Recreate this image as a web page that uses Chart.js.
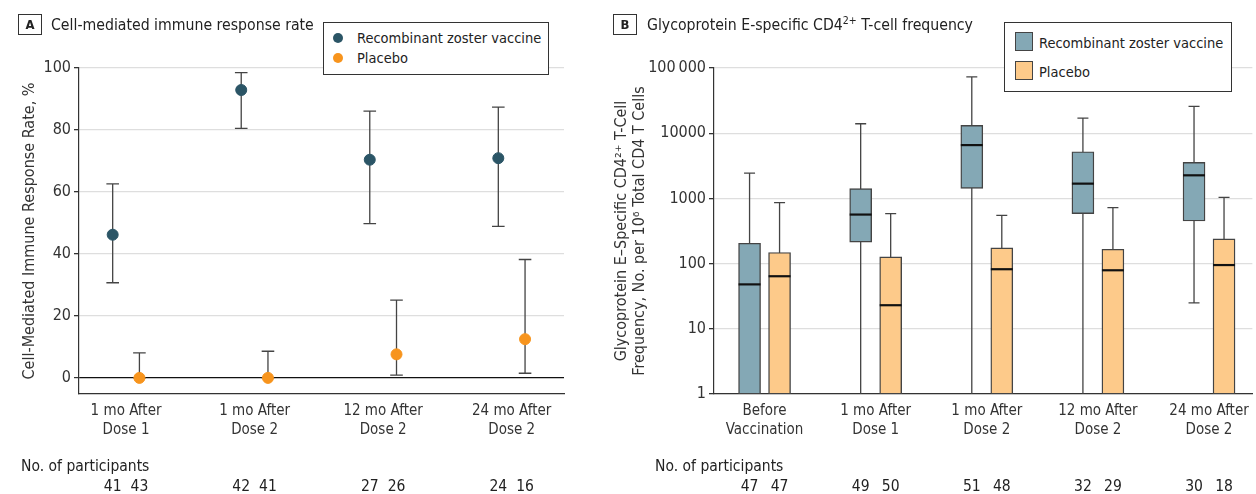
<!DOCTYPE html>
<html>
<head>
<meta charset="utf-8">
<script src="https://cdn.jsdelivr.net/npm/chart.js@4/dist/chart.umd.min.js"></script>
<style>
  body { margin: 0; background: #fff; font-family: 'DejaVu Sans Condensed', 'DejaVu Sans', sans-serif; color: #222; }
  #wrap { position: relative; width: 1256px; height: 494px; overflow: hidden; }
  canvas { position: absolute; top: 0; }
  .tag { position: absolute; top: 14px; width: 22px; height: 19px; border: 1px solid #333; font-size: 13px; font-weight: bold; line-height: 19px; text-align: center; }
  .title { position: absolute; top: 13px; font-size: 15.7px; line-height: 23px; white-space: nowrap; }
  .legend { position: absolute; top: 22px; background: #fff; border: 1px solid #333; z-index: 2; font-size: 14.5px; }
  .legend div { position: absolute; white-space: nowrap; line-height: 18px; }
  .dot { position: absolute; width: 10px; height: 10px; border-radius: 50%; }
  .sw { position: absolute; width: 16px; height: 17px; border: 1px solid #444; }
</style>
</head>
<body>
<div id="wrap">
  <canvas id="chartA" width="600" height="494" style="left:0"></canvas>
  <canvas id="chartB" width="656" height="494" style="left:600px"></canvas>

  <div class="tag" style="left:18px">A</div>
  <div class="title" style="left:51px">Cell-mediated immune response rate</div>
  <div class="legend" style="left:323px; width:224px; height:51px">
    <span class="dot" style="left:9px; top:10px; background:#2b5566"></span>
    <div style="left:33px; top:6px">Recombinant zoster vaccine</div>
    <span class="dot" style="left:9px; top:30px; background:#f7941d"></span>
    <div style="left:33px; top:26px">Placebo</div>
  </div>

  <div class="tag" style="left:613px">B</div>
  <div class="title" style="left:647px">Glycoprotein E-specific CD4<sup style="font-size:10.5px; line-height:0">2+</sup> T-cell frequency</div>
  <div class="legend" style="left:1004px; width:226px; height:68px">
    <span class="sw" style="left:10px; top:9px; background:#84a8b5"></span>
    <div style="left:34px; top:11px">Recombinant zoster vaccine</div>
    <span class="sw" style="left:10px; top:38px; background:#fdca8a"></span>
    <div style="left:34px; top:40px">Placebo</div>
  </div>
</div>

<script>
/* Panel A: cell-mediated immune response rate, % (point and 95% CI) */
const rateLabels = [['1 mo After', 'Dose 1'], ['1 mo After', 'Dose 2'], ['12 mo After', 'Dose 2'], ['24 mo After', 'Dose 2']];
const vaccineRate = [46.2, 92.9, 70.4, 70.9];
const vaccineRateLow = [30.7, 80.5, 49.8, 48.9];
const vaccineRateHigh = [62.6, 98.5, 86.1, 87.4];
const placeboRate = [0, 0, 7.6, 12.5];
const placeboRateLow = [0, 0, 0.9, 1.5];
const placeboRateHigh = [8.1, 8.6, 25.1, 38.2];
const rateVaccineN = [41, 42, 27, 24];
const ratePlaceboN = [43, 41, 26, 16];
const rateTicks = [0, 20, 40, 60, 80, 100];

/* Panel B: gE-specific CD4 T-cell frequency (box plots) */
const freqLabels = [['Before', 'Vaccination'], ['1 mo After', 'Dose 1'], ['1 mo After', 'Dose 2'], ['12 mo After', 'Dose 2'], ['24 mo After', 'Dose 2']];
const vaccineMin = [1, 1, 1, 1, 25];
const vaccineQ1 = [1, 213, 1428, 585, 451];
const vaccineMedian = [48, 565, 6570, 1684, 2260];
const vaccineQ3 = [205, 1413, 13160, 5200, 3570];
const vaccineMax = [2450, 13970, 73300, 17050, 25700];
const placeboMin = [1, 1, 1, 1, 1];
const placeboQ1 = [1, 1, 1, 1, 1];
const placeboMedian = [64, 23, 82, 79, 95];
const placeboQ3 = [148, 127, 174, 166, 239];
const placeboMax = [862, 585, 551, 723, 1040];
const freqVaccineN = [47, 49, 51, 32, 30];
const freqPlaceboN = [47, 50, 48, 29, 18];
const freqTicks = [1, 10, 100, 1000, 10000, 100000];

const FONT = "'DejaVu Sans Condensed', 'DejaVu Sans', sans-serif";
Chart.defaults.font.family = FONT;
Chart.defaults.color = '#333';

const VACC_DOT = '#2b5566', PLAC_DOT = '#f7941d';
const VACC_BOX = '#84a8b5', PLAC_BOX = '#fdca8a';
const offA = 0.104, offB = 0.135;

/* Draws error bars (CI) under the points */
const errorBars = {
    id: 'errorBars',
    beforeDatasetsDraw(chart) {
        const ctx = chart.ctx, y = chart.scales.y;
        chart.data.datasets.forEach((ds, d) => {
            const meta = chart.getDatasetMeta(d);
            meta.data.forEach((pt, i) => {
                const top = y.getPixelForValue(ds.hi[i]);
                const bot = y.getPixelForValue(ds.lo[i]);
                ctx.save();
                ctx.strokeStyle = '#444';
                ctx.lineWidth = 1.3;
                ctx.beginPath();
                ctx.moveTo(pt.x, top); ctx.lineTo(pt.x, bot);
                ctx.moveTo(pt.x - 6.3, top); ctx.lineTo(pt.x + 6.3, top);
                ctx.moveTo(pt.x - 6.3, bot); ctx.lineTo(pt.x + 6.3, bot);
                ctx.stroke();
                ctx.restore();
            });
        });
    }
};

/* Whiskers behind the boxes, medians on top */
const boxParts = {
    id: 'boxParts',
    beforeDatasetsDraw(chart) {
        const ctx = chart.ctx, y = chart.scales.y;
        chart.data.datasets.forEach((ds, d) => {
            chart.getDatasetMeta(d).data.forEach((bar, i) => {
                const top = y.getPixelForValue(ds.max[i]);
                const bot = y.getPixelForValue(ds.min[i]);
                ctx.save();
                ctx.strokeStyle = '#444';
                ctx.lineWidth = 1.3;
                ctx.beginPath();
                ctx.moveTo(bar.x, top); ctx.lineTo(bar.x, bot);
                ctx.moveTo(bar.x - 5.5, top); ctx.lineTo(bar.x + 5.5, top);
                if (ds.min[i] > 1) { ctx.moveTo(bar.x - 5.5, bot); ctx.lineTo(bar.x + 5.5, bot); }
                ctx.stroke();
                ctx.restore();
            });
        });
    },
    afterDatasetsDraw(chart) {
        const ctx = chart.ctx, y = chart.scales.y;
        chart.data.datasets.forEach((ds, d) => {
            chart.getDatasetMeta(d).data.forEach((bar, i) => {
                const m = y.getPixelForValue(ds.median[i]);
                ctx.save();
                ctx.strokeStyle = '#111';
                ctx.lineWidth = 2.2;
                ctx.beginPath();
                ctx.moveTo(bar.x - bar.width / 2, m); ctx.lineTo(bar.x + bar.width / 2, m);
                ctx.stroke();
                ctx.restore();
            });
        });
    }
};

/* "No. of participants" rows below the x axis */
function participants(vacc, plac, off, labelX) {
    return {
        id: 'participants',
        afterDraw(chart) {
            const ctx = chart.ctx, x = chart.scales.x;
            ctx.save();
            ctx.font = '15.5px ' + FONT;
            ctx.fillStyle = '#222';
            ctx.textBaseline = 'middle';
            ctx.textAlign = 'left';
            ctx.fillText('No. of participants', labelX, 467);
            ctx.textAlign = 'center';
            vacc.forEach((n, i) => {
                ctx.fillText(String(n), x.getPixelForValue(i + 1 - off), 487);
                ctx.fillText(String(plac[i]), x.getPixelForValue(i + 1 + off), 487);
            });
            ctx.restore();
        }
    };
}

function xAxis(min, max, labels) {
    return {
        type: 'linear', min: min, max: max, offset: false,
        afterBuildTicks: s => { s.ticks = labels.map((l, i) => ({ value: i + 1 })); },
        afterFit: s => { s.height = 100; },
        grid: { display: false, drawTicks: false },
        border: { color: '#333', width: 1.2 },
        ticks: { padding: 7, color: '#333', font: { size: 15, lineHeight: 1.3 }, callback: v => labels[v - 1], maxRotation: 0, autoSkip: false }
    };
}

new Chart(document.getElementById('chartA'), {
    type: 'scatter',
    data: {
        datasets: [
            { label: 'Recombinant zoster vaccine', data: vaccineRate.map((v, i) => ({ x: i + 1 - offA, y: v })), lo: vaccineRateLow, hi: vaccineRateHigh, backgroundColor: VACC_DOT, borderColor: VACC_DOT, pointRadius: 5.5 },
            { label: 'Placebo', data: placeboRate.map((v, i) => ({ x: i + 1 + offA, y: v })), lo: placeboRateLow, hi: placeboRateHigh, backgroundColor: PLAC_DOT, borderColor: PLAC_DOT, pointRadius: 5.5 }
        ]
    },
    options: {
        responsive: false,
        animation: false,
        layout: { padding: { left: 0, top: 68, right: 36, bottom: 0 } },
        plugins: { legend: { display: false }, tooltip: { enabled: false } },
        scales: {
            x: xAxis(0.634, 4.407, rateLabels),
            y: {
                min: -5.2, max: 100,
                afterBuildTicks: s => { s.ticks = rateTicks.map(v => ({ value: v })); },
                afterFit: s => { s.width = 79; },
                grid: { color: c => c.tick.value === 0 ? '#111' : '#dedede', lineWidth: c => c.tick.value === 0 ? 1.2 : 1.3, tickLength: 5, tickColor: '#333' },
                border: { color: '#333', width: 1.2 },
                ticks: { padding: 3, color: '#333', font: { size: 16 } },
                title: { display: true, text: 'Cell-Mediated Immune Response Rate, %', color: '#333', font: { size: 16, lineHeight: 1.2 }, padding: { top: 20, bottom: 0 } }
            }
        }
    },
    plugins: [errorBars, participants(rateVaccineN, ratePlaceboN, offA, 21)]
});

new Chart(document.getElementById('chartB'), {
    type: 'bar',
    data: {
        datasets: [
            { label: 'Recombinant zoster vaccine', data: vaccineQ1.map((q, i) => ({ x: i + 1 - offB, y: [q, vaccineQ3[i]] })), min: vaccineMin, max: vaccineMax, median: vaccineMedian, backgroundColor: VACC_BOX },
            { label: 'Placebo', data: placeboQ1.map((q, i) => ({ x: i + 1 + offB, y: [q, placeboQ3[i]] })), min: placeboMin, max: placeboMax, median: placeboMedian, backgroundColor: PLAC_BOX }
        ]
    },
    options: {
        responsive: false,
        animation: false,
        grouped: false,
        barThickness: 22,
        borderColor: '#444',
        borderWidth: 1.4,
        borderSkipped: false,
        layout: { padding: { left: 0, top: 68, right: 3, bottom: 0 } },
        plugins: { legend: { display: false }, tooltip: { enabled: false } },
        scales: {
            x: xAxis(0.545, 5.39, freqLabels),
            y: {
                type: 'logarithmic', min: 1, max: 100000,
                afterBuildTicks: s => { s.ticks = freqTicks.map(v => ({ value: v })); },
                afterFit: s => { s.width = 114; },
                grid: { color: '#dedede', lineWidth: 1.3, tickLength: 5, tickColor: '#333' },
                border: { color: '#333', width: 1.2 },
                ticks: { padding: 3, color: '#333', font: { size: 16 }, callback: v => v === 100000 ? '100\u2009000' : String(v) },
                title: { display: true, text: ['Glycoprotein E\u2013Specific CD4\u00b2\u207a T-Cell', 'Frequency, No. per 10\u2076 Total CD4 T Cells'], color: '#333', font: { size: 16, lineHeight: 1.13 }, padding: { top: 13, bottom: 0 } }
            }
        }
    },
    plugins: [boxParts, participants(freqVaccineN, freqPlaceboN, offB, 55)]
});
</script>
</body>
</html>
